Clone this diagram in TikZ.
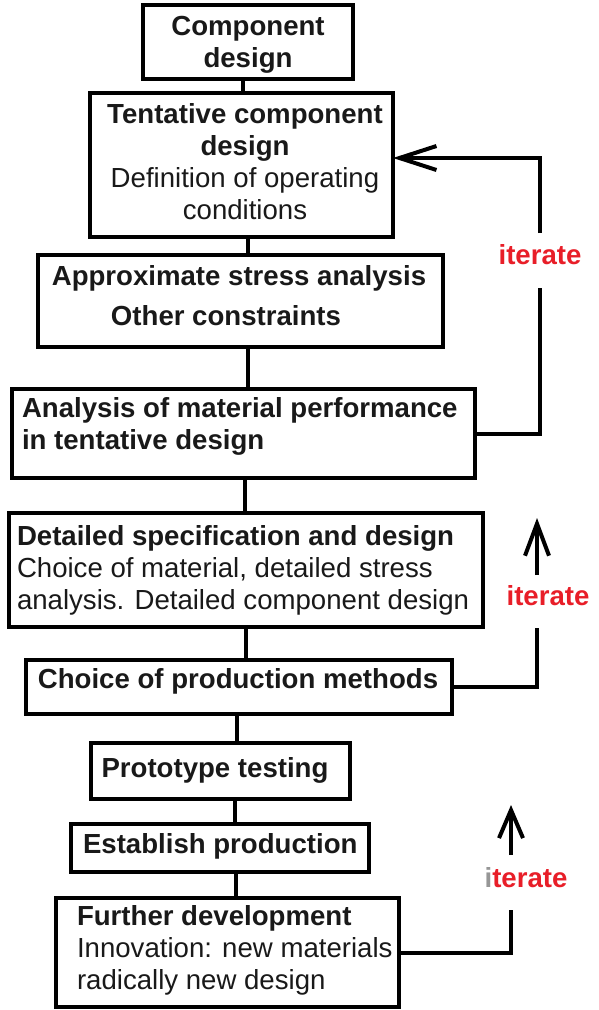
\documentclass[tikz,border=0pt]{standalone}
\usepackage{fontspec}
\setmainfont{Liberation Sans}
\usetikzlibrary{arrows.meta}
\definecolor{itred}{RGB}{232,30,40}
\definecolor{itgrey}{RGB}{150,150,150}
\definecolor{txtc}{RGB}{25,25,25}
\tikzset{
  box/.style={draw=black, line width=4pt, inner sep=0pt, outer sep=0pt, anchor=north west},
  conn/.style={draw=black, line width=4pt},
  txt/.style={inner sep=0pt, outer sep=0pt, anchor=base west, font=\fontsize{27.6}{32}\selectfont, text=txtc},
  itlab/.style={inner sep=0pt, outer sep=0pt, anchor=base, font=\fontsize{27.6}{32}\selectfont\bfseries, text=itred},
  barbtip/.style={-{Straight Barb[length=#1, width=24pt]}}
}
\begin{document}
\begin{tikzpicture}[x=1pt, y=-1pt]
\useasboundingbox (0,0) rectangle (598,1010);

% boxes
\node[box, minimum width=210pt, minimum height=74pt]  (b1) at (143,5)   {};
\node[box, minimum width=303pt, minimum height=144pt] (b2) at (90,93)   {};
\node[box, minimum width=405pt, minimum height=92pt]  (b3) at (38,255)  {};
\node[box, minimum width=463pt, minimum height=89pt]  (b4) at (12,389)  {};
\node[box, minimum width=474pt, minimum height=114pt] (b5) at (9,513)   {};
\node[box, minimum width=426pt, minimum height=54pt]  (b6) at (26,660)  {};
\node[box, minimum width=259pt, minimum height=56pt]  (b7) at (91,743)  {};
\node[box, minimum width=298pt, minimum height=48pt]  (b8) at (71,824)  {};
\node[box, minimum width=343pt, minimum height=109pt] (b9) at (56,898)  {};

% texts
\node[txt, anchor=base] (t1) at (248,35) {\parbox[t]{220pt}{\centering\bfseries Component\\design}};
\node[txt, anchor=base] (t2) at (245,123) {\parbox[t]{300pt}{\centering\bfseries Tentative component\\design\\ \mdseries Definition of operating\\conditions}};
\node[txt, anchor=base] (t3a) at (239,285) {\bfseries Approximate stress analysis};
\node[txt, anchor=base] (t3b) at (226,325) {\bfseries Other constraints};
\node[txt] (t4) at (22,417) {\parbox[t]{450pt}{\raggedright\bfseries Analysis of material performance\\in tentative design}};
\node[txt] (t5) at (17,545) {\parbox[t]{470pt}{\raggedright\bfseries Detailed specification and design\\ \mdseries Choice of material, detailed stress\\analysis. Detailed component design}};
\node[txt, anchor=base] (t6) at (238,688) {\bfseries Choice of production methods};
\node[txt, anchor=base] (t7) at (215,777) {\bfseries Prototype testing};
\node[txt] (t8) at (83,853) {\bfseries Establish production};
\node[txt] (t9) at (77,925) {\parbox[t]{330pt}{\raggedright\bfseries Further development\\ \mdseries Innovation: new materials\\radically new design}};

% vertical connectors
\coordinate (c12) at (243,0);
\coordinate (c23) at (248,0);
\coordinate (c34) at (248,0);
\coordinate (c45) at (245,0);
\coordinate (c56) at (246,0);
\coordinate (c67) at (237,0);
\coordinate (c78) at (235,0);
\coordinate (c89) at (236,0);
\draw[conn] (b1.south -| c12) -- (b2.north -| c12);
\draw[conn] (b2.south -| c23) -- (b3.north -| c23);
\draw[conn] (b3.south -| c34) -- (b4.north -| c34);
\draw[conn] (b4.south -| c45) -- (b5.north -| c45);
\draw[conn] (b5.south -| c56) -- (b6.north -| c56);
\draw[conn] (b6.south -| c67) -- (b7.north -| c67);
\draw[conn] (b7.south -| c78) -- (b8.north -| c78);
\draw[conn] (b8.south -| c89) -- (b9.north -| c89);

% iterate labels
\node[itlab] (it1) at (540,264) {iterate};
\node[itlab] (it2) at (548,605) {iterate};
\node[itlab] (it3) at (526,887) {{\color{itgrey}i}terate};

% feedback loop 1
\coordinate (a1top) at (540,158);
\coordinate (a1up) at (540,233);
\coordinate (a1low) at (540,288);
\draw[conn, barbtip=37pt] (a1up) -- (a1top) -- (b2.east |- a1top);
\draw[conn] (b4.east) -| (a1low);

% feedback loop 2
\coordinate (a2low) at (537,628);
\coordinate (a2from) at (537,575);
\coordinate (a2tip) at (537,518);
\draw[conn] (b6.east) -| (a2low);
\draw[conn, barbtip=32pt] (a2from) -- (a2tip);

% feedback loop 3
\coordinate (a3low) at (511,910);
\coordinate (a3from) at (511,855);
\coordinate (a3tip) at (511,805);
\draw[conn] (b9.east) -| (a3low);
\draw[conn, barbtip=28pt] (a3from) -- (a3tip);
\end{tikzpicture}
\end{document}
